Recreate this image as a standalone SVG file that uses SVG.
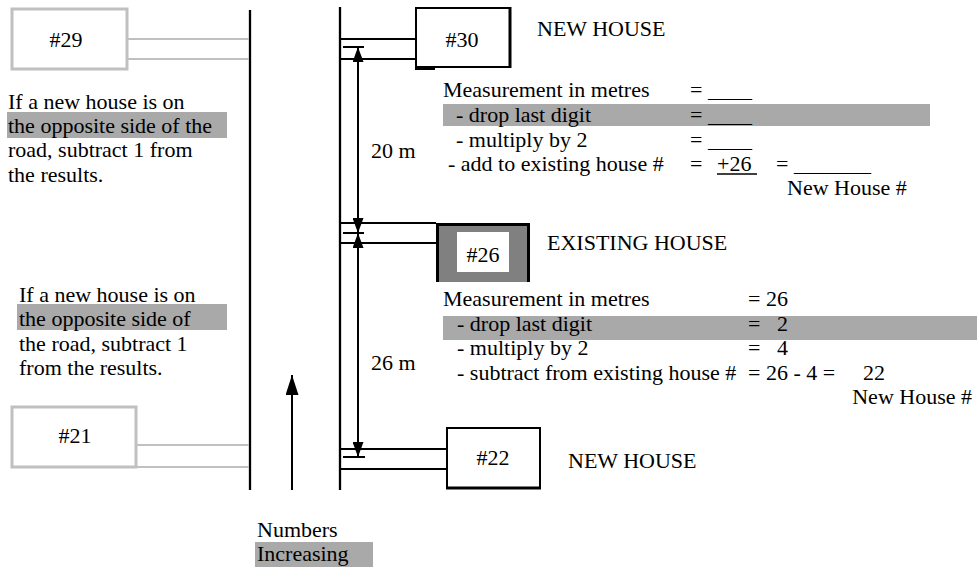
<svg xmlns="http://www.w3.org/2000/svg" width="977" height="569" viewBox="0 0 977 569">
<style>
  text { font-family: "Liberation Serif", "Times New Roman", serif; font-size: 22px; fill: #000; }
  .road { stroke: #000; stroke-width: 2.3; }
  .blk { stroke: #000; stroke-width: 2; fill: none; }
  .gry { stroke: #c0c0c0; stroke-width: 2; fill: none; }
  .gbox { stroke: #c0c0c0; stroke-width: 3; fill: #fff; }
  .hl { fill: #a9a9a9; }
</style>
<defs>
  <marker id="ah" markerUnits="userSpaceOnUse" markerWidth="16" markerHeight="11" refX="15" refY="5.5" orient="auto-start-reverse" viewBox="0 0 16 11">
    <path d="M0,0 L15,5.5 L0,11 z" fill="#000"/>
  </marker>
  <marker id="ah2" markerUnits="userSpaceOnUse" markerWidth="21" markerHeight="13" refX="20" refY="6.5" orient="auto" viewBox="0 0 21 13">
    <path d="M0,0 L20,6.5 L0,13 z" fill="#000"/>
  </marker>
</defs>

<g id="road">
  <line class="road" x1="250" y1="10" x2="250" y2="490"/>
  <line class="road" x1="340" y1="7" x2="340" y2="490"/>
</g>

<g id="connectors">
  <line class="gry" x1="127" y1="39" x2="249" y2="39"/>
  <line class="gry" x1="127" y1="59" x2="249" y2="59"/>
  <line class="gry" x1="136" y1="445" x2="249" y2="445"/>
  <line class="gry" x1="136" y1="467" x2="249" y2="467"/>
  <line class="blk" x1="341" y1="39" x2="416" y2="39"/>
  <line class="blk" x1="341" y1="59" x2="416" y2="59"/>
  <line class="blk" x1="341" y1="223" x2="436" y2="223"/>
  <line class="blk" x1="341" y1="243" x2="436" y2="243"/>
  <line class="blk" x1="341" y1="449" x2="447" y2="449"/>
  <line class="blk" x1="341" y1="469" x2="447" y2="469"/>
  <line class="blk" x1="343" y1="47" x2="364" y2="47"/>
  <line class="blk" x1="343" y1="233" x2="364" y2="233"/>
  <line class="blk" x1="343" y1="457" x2="365" y2="457"/>
  <line class="blk" x1="358" y1="47" x2="358" y2="233" marker-start="url(#ah)" marker-end="url(#ah)"/>
  <line class="blk" x1="358" y1="233" x2="358" y2="457" marker-start="url(#ah)" marker-end="url(#ah)"/>
  <line class="blk" x1="292" y1="490" x2="292" y2="375" marker-end="url(#ah2)"/>
</g>

<g id="house29">
  <rect class="gbox" x="12" y="9" width="115" height="60"/>
  <text x="66" y="47" text-anchor="middle">#29</text>
</g>

<g id="house21">
  <rect class="gbox" x="12" y="407" width="124" height="60"/>
  <text x="75" y="443" text-anchor="middle">#21</text>
</g>

<g id="house30">
  <rect x="416" y="8" width="94" height="59" fill="#fff" stroke="#000" stroke-width="2"/>
  <line x1="510" y1="7" x2="510" y2="68" stroke="#000" stroke-width="3"/>
  <rect x="415" y="66" width="20" height="4" fill="#000"/>
  <text x="462" y="47" text-anchor="middle">#30</text>
</g>
<text x="537" y="36">NEW HOUSE</text>

<g id="house26">
  <rect x="436" y="223" width="94" height="59" fill="#808080"/>
  <path d="M437.5,282 V224.5 H528.5 V282" fill="none" stroke="#000" stroke-width="3"/>
  <rect x="457" y="232" width="52" height="40" fill="#fff"/>
  <text x="483" y="262" text-anchor="middle">#26</text>
</g>
<text x="547" y="250">EXISTING HOUSE</text>

<g id="house22">
  <rect x="447" y="428" width="93" height="60" fill="#fff" stroke="#000" stroke-width="2"/>
  <line x1="446" y1="488" x2="541" y2="488" stroke="#000" stroke-width="3"/>
  <text x="493" y="465" text-anchor="middle">#22</text>
</g>
<text x="568" y="468">NEW HOUSE</text>

<g id="note-top">
  <rect class="hl" x="7" y="112" width="220" height="26"/>
  <text x="8" y="109">If a new house is on</text>
  <text x="8" y="133">the opposite side of the</text>
  <text x="8" y="157">road, subtract 1 from</text>
  <text x="8" y="182">the results.</text>
</g>

<g id="note-bottom">
  <rect class="hl" x="17" y="304" width="210" height="26"/>
  <text x="19" y="302">If a new house is on</text>
  <text x="19" y="326">the opposite side of</text>
  <text x="19" y="351">the road, subtract 1</text>
  <text x="19" y="375">from the results.</text>
</g>

<text x="371" y="158">20 m</text>
<text x="371" y="370">26 m</text>

<g id="calc-new">
  <rect class="hl" x="443" y="104" width="487" height="22"/>
  <text x="443" y="97">Measurement in metres</text>
  <text x="690" y="97">= ____</text>
  <text x="456" y="122">- drop last digit</text>
  <text x="690" y="122">= ____</text>
  <text x="456" y="147">- multiply by 2</text>
  <text x="690" y="147">= ____</text>
  <text x="448" y="171">- add to existing house #</text>
  <text x="690" y="171">=</text>
  <text x="717" y="171">+26</text>
  <line x1="717" y1="174" x2="757" y2="174" stroke="#000" stroke-width="1.5"/>
  <text x="776" y="171">= _______</text>
  <text x="787" y="195">New House #</text>
</g>

<g id="calc-existing">
  <rect class="hl" x="443" y="316" width="534" height="24"/>
  <text x="443" y="306">Measurement in metres</text>
  <text x="748" y="306">= 26</text>
  <text x="457" y="331">- drop last digit</text>
  <text x="748" y="331">=</text>
  <text x="777" y="331">2</text>
  <text x="457" y="355">- multiply by 2</text>
  <text x="748" y="355">=</text>
  <text x="777" y="355">4</text>
  <text x="457" y="380">- subtract from existing house #</text>
  <text x="748" y="380">= 26 - 4 =</text>
  <text x="863" y="380">22</text>
  <text x="972" y="404" text-anchor="end">New House #</text>
</g>

<g id="direction">
  <text x="257" y="537">Numbers</text>
  <rect class="hl" x="255" y="542" width="118" height="25"/>
  <text x="257" y="561">Increasing</text>
</g>
</svg>
